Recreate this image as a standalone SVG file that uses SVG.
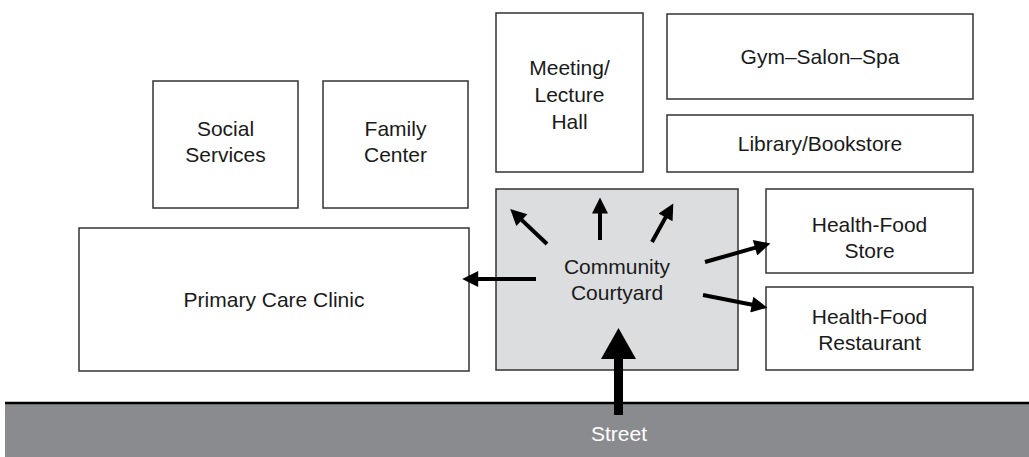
<svg xmlns="http://www.w3.org/2000/svg" width="1029" height="457" viewBox="0 0 1029 457">
<style>
.box{fill:#fff;stroke:#333;stroke-width:1.5}
.court{fill:#dcdddf;stroke:#333;stroke-width:1.5}
.lbl{font-family:"Liberation Sans",Arial,sans-serif;font-size:21px;fill:#1a1a1a;text-anchor:middle}
.arr{stroke:#000;stroke-width:4;fill:none;marker-end:url(#ah)}
</style>
<defs>
<marker id="ah" viewBox="0 0 10 10" refX="2" refY="5" markerWidth="4.5" markerHeight="4" orient="auto" markerUnits="strokeWidth">
<path d="M0,0 L10,5 L0,10 z" fill="#000"/>
</marker>
</defs>
<rect x="0" y="0" width="1029" height="457" fill="#fff"/>
<g id="street">
<rect x="5" y="403" width="1024" height="54" fill="#8a8b8f"/>
<line x1="5" y1="403" x2="1029" y2="403" stroke="#000" stroke-width="2.5"/>
<text x="619" y="441" class="lbl" style="fill:#fff">Street</text>
</g>
<g id="social-services">
<rect class="box" x="153" y="81" width="145" height="127"/>
<text class="lbl" x="225.5" y="136">Social</text>
<text class="lbl" x="225.5" y="162">Services</text>
</g>
<g id="family-center">
<rect class="box" x="323" y="81" width="145" height="127"/>
<text class="lbl" x="395.5" y="136">Family</text>
<text class="lbl" x="395.5" y="162">Center</text>
</g>
<g id="primary-care">
<rect class="box" x="79" y="228" width="390" height="143"/>
<text class="lbl" x="274" y="307">Primary Care Clinic</text>
</g>
<g id="meeting-hall">
<rect class="box" x="496" y="13" width="147" height="159"/>
<text class="lbl" x="569.5" y="75">Meeting/</text>
<text class="lbl" x="569.5" y="102">Lecture</text>
<text class="lbl" x="569.5" y="129">Hall</text>
</g>
<g id="gym">
<rect class="box" x="667" y="14" width="306" height="85"/>
<text class="lbl" x="820" y="64">Gym–Salon–Spa</text>
</g>
<g id="library">
<rect class="box" x="667" y="115" width="306" height="57"/>
<text class="lbl" x="820" y="151">Library/Bookstore</text>
</g>
<g id="courtyard">
<rect class="court" x="496" y="189" width="242" height="181"/>
<text class="lbl" x="617" y="274">Community</text>
<text class="lbl" x="617" y="300">Courtyard</text>
</g>
<g id="health-food-store">
<rect class="box" x="766" y="189" width="207" height="84"/>
<text class="lbl" x="869.5" y="232">Health-Food</text>
<text class="lbl" x="869.5" y="258">Store</text>
</g>
<g id="health-food-restaurant">
<rect class="box" x="766" y="287" width="207" height="83"/>
<text class="lbl" x="869.5" y="324">Health-Food</text>
<text class="lbl" x="869.5" y="350">Restaurant</text>
</g>
<g id="connectors">
<line class="arr" x1="536" y1="279" x2="475" y2="279"/>
<line class="arr" x1="547" y1="244" x2="519.5" y2="217.9"/>
<line class="arr" x1="600" y1="240" x2="600" y2="210.4"/>
<line class="arr" x1="652" y1="242" x2="667.1" y2="214.6"/>
<line class="arr" x1="705" y1="262" x2="758.1" y2="246.9"/>
<line class="arr" x1="703" y1="295" x2="754.9" y2="305.2"/>
<rect x="614" y="356" width="9" height="59" fill="#000"/>
<path d="M601,359 L636,359 L618.5,328 z" fill="#000"/>
</g>
</svg>
